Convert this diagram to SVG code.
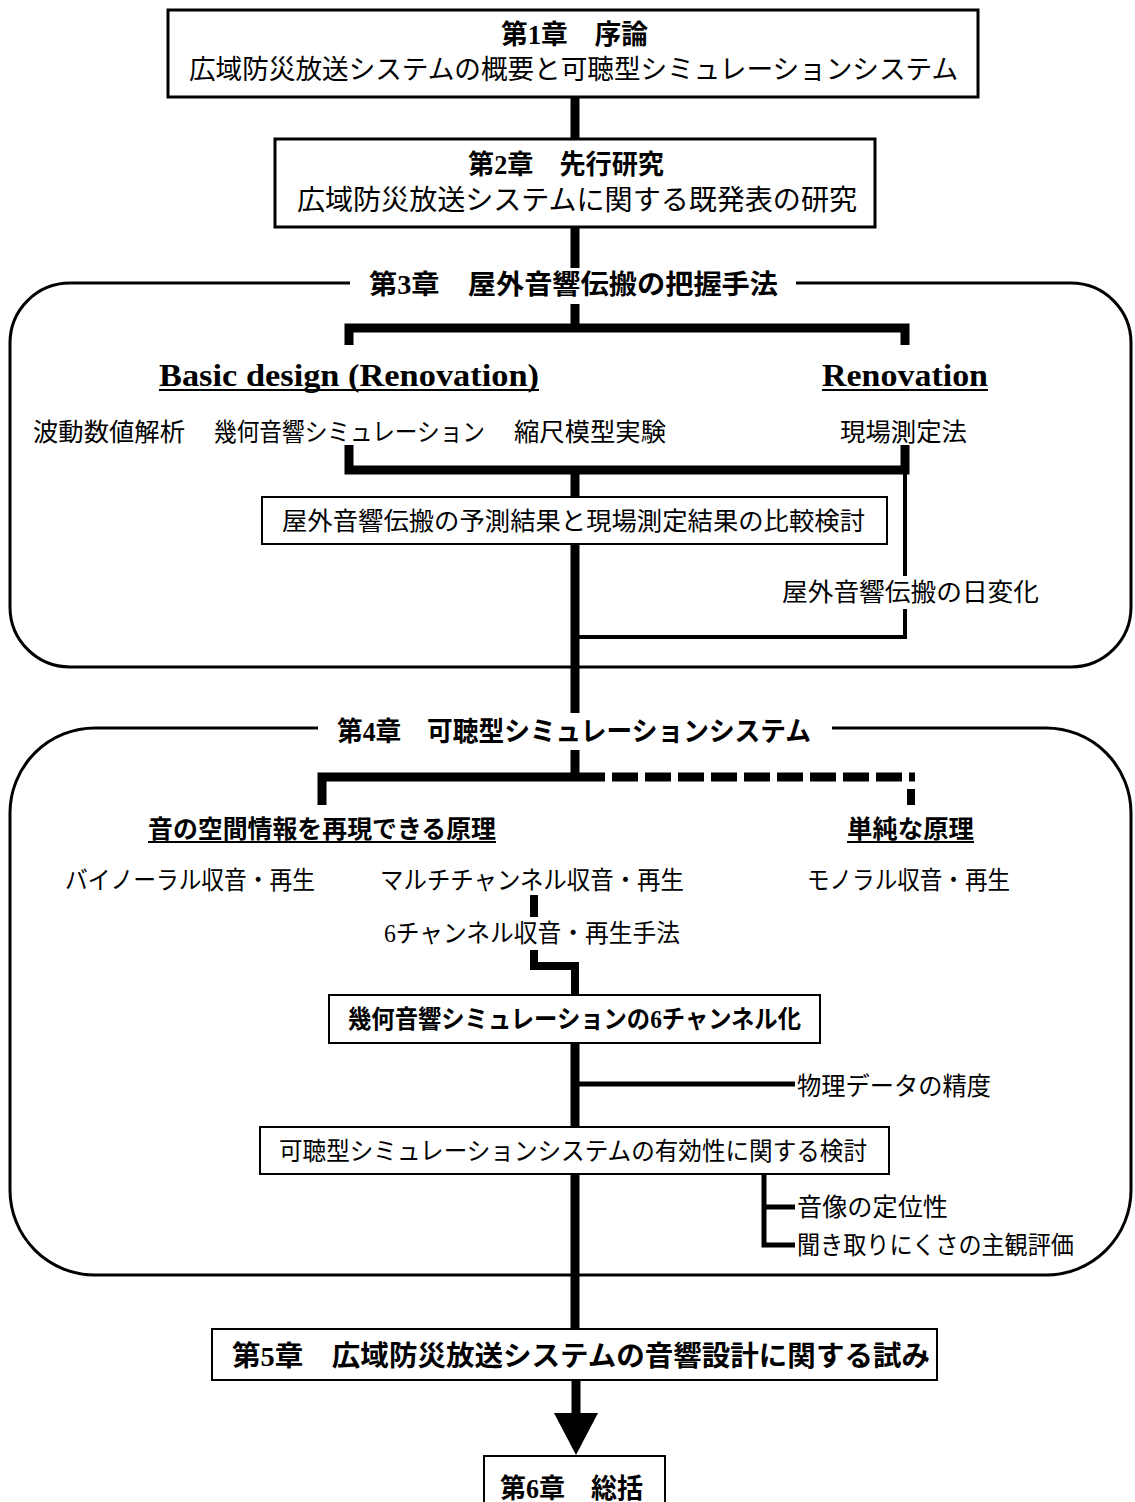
<svg xmlns="http://www.w3.org/2000/svg" width="1135" height="1502" viewBox="0 0 1135 1502">
<style>
.t{font-family:"Liberation Serif","Noto Sans CJK JP",serif;font-size:25px;fill:#000;dominant-baseline:central}
.b{font-weight:bold;font-size:27px}
.en{font-family:"Liberation Serif",serif;font-weight:bold;font-size:32px;fill:#000}
.box{fill:#fff;stroke:#000;stroke-width:2}
.box3{fill:#fff;stroke:#000;stroke-width:3}
.frame{fill:none;stroke:#000;stroke-width:3}
.thick{fill:none;stroke:#000;stroke-width:9;stroke-linejoin:miter;stroke-linecap:butt}
.mid{fill:none;stroke:#000;stroke-width:8;stroke-linejoin:miter}
.thin{fill:none;stroke:#000;stroke-width:4}
.br{fill:none;stroke:#000;stroke-width:5;stroke-linejoin:miter}
.ul{stroke:#000;stroke-width:2}
</style>
<g id="ch3-frame"><path class="frame" d="M350,283 H70 A60,60 0 0 0 10,343 V607 A60,60 0 0 0 70,667 H1071 A60,60 0 0 0 1131,607 V343 A60,60 0 0 0 1071,283 H796"/></g>
<g id="ch4-frame"><path class="frame" d="M318,728 H95 A85,85 0 0 0 10,813 V1190 A85,85 0 0 0 95,1275 H1046 A85,85 0 0 0 1131,1190 V813 A85,85 0 0 0 1046,728 H832"/></g>
<g id="connectors">
<line class="thick" x1="575" y1="97" x2="575" y2="139"/>
<line class="thick" x1="575" y1="227" x2="575" y2="268"/>
<line class="thick" x1="575" y1="304" x2="575" y2="328"/>
<path class="thick" d="M349,345 V328 H905 V345"/>
<path class="thick" d="M349,445 V470 H905 V445"/>
<line class="thick" x1="575" y1="470" x2="575" y2="497"/>
<path class="thin" d="M905,470 V576"/>
<path class="thin" d="M905,609 V637 H575"/>
<line class="thick" x1="575" y1="544" x2="575" y2="713"/>
<line class="thick" x1="575" y1="750" x2="575" y2="777"/>
<path class="thick" d="M322,805 V777 H579"/>
<line x1="579" y1="777" x2="915" y2="777" stroke="#000" stroke-width="9" stroke-dasharray="26 7"/>
<line x1="911" y1="789" x2="911" y2="805" stroke="#000" stroke-width="8"/>
<line class="mid" x1="534" y1="895" x2="534" y2="917"/>
<path class="mid" d="M534,950 V966 H575 V995"/>
<line class="thick" x1="575" y1="1043" x2="575" y2="1127"/>
<path class="br" d="M575,1084 H795"/>
<line class="thick" x1="575" y1="1174" x2="575" y2="1329"/>
<path class="br" d="M764,1174 V1245 H795 M764,1207 H795"/>
<line class="thick" x1="576" y1="1380" x2="576" y2="1414"/>
<polygon points="554,1413 598,1413 576,1455" fill="#000"/>
</g>
<g id="ch1">
<rect class="box3" x="168" y="10" width="810" height="87"/>
<text class="t b" x="501" y="35" textLength="147" lengthAdjust="spacingAndGlyphs">第1章　序論</text>
<text class="t" x="189" y="70" style="font-size:27px" textLength="769" lengthAdjust="spacingAndGlyphs">広域防災放送システムの概要と可聴型シミュレーションシステム</text>
</g>
<g id="ch2">
<rect class="box3" x="275" y="139" width="600" height="88"/>
<text class="t b" x="468" y="165" textLength="196" lengthAdjust="spacingAndGlyphs">第2章　先行研究</text>
<text class="t" x="297" y="200" style="font-size:28px" textLength="560" lengthAdjust="spacingAndGlyphs">広域防災放送システムに関する既発表の研究</text>
</g>
<g id="ch3-title"><text class="t b" x="369" y="285" textLength="409" lengthAdjust="spacingAndGlyphs">第3章　屋外音響伝搬の把握手法</text></g>
<g id="basic-design">
<text class="en" x="159" y="386" textLength="380" lengthAdjust="spacingAndGlyphs">Basic design (Renovation)</text>
<line class="ul" x1="159" y1="390" x2="539" y2="390"/>
</g>
<g id="renovation">
<text class="en" x="822" y="386" textLength="166" lengthAdjust="spacingAndGlyphs">Renovation</text>
<line class="ul" x1="822" y1="390" x2="988" y2="390"/>
</g>
<g id="m-wave"><text class="t" x="33" y="432" textLength="152" lengthAdjust="spacingAndGlyphs">波動数値解析</text></g>
<g id="m-geo"><text class="t" x="214" y="432" textLength="271" lengthAdjust="spacingAndGlyphs">幾何音響シミュレーション</text></g>
<g id="m-scale"><text class="t" x="514" y="432" textLength="152" lengthAdjust="spacingAndGlyphs">縮尺模型実験</text></g>
<g id="m-field"><text class="t" x="840" y="432" textLength="127" lengthAdjust="spacingAndGlyphs">現場測定法</text></g>
<g id="compare">
<rect class="box" x="262" y="497" width="625" height="47"/>
<text class="t" x="282" y="521" textLength="583" lengthAdjust="spacingAndGlyphs">屋外音響伝搬の予測結果と現場測定結果の比較検討</text>
</g>
<g id="daily"><text class="t" x="782" y="592" textLength="257" lengthAdjust="spacingAndGlyphs">屋外音響伝搬の日変化</text></g>
<g id="ch4-title"><text class="t b" x="337" y="732" textLength="474" lengthAdjust="spacingAndGlyphs">第4章　可聴型シミュレーションシステム</text></g>
<g id="spatial">
<text class="t b" x="148" y="829" style="font-size:25px" textLength="348" lengthAdjust="spacingAndGlyphs">音の空間情報を再現できる原理</text>
<line class="ul" x1="148" y1="842" x2="496" y2="842"/>
</g>
<g id="simple">
<text class="t b" x="847" y="829" style="font-size:25px" textLength="127" lengthAdjust="spacingAndGlyphs">単純な原理</text>
<line class="ul" x1="847" y1="842" x2="974" y2="842"/>
</g>
<g id="binaural"><text class="t" x="65" y="880" textLength="250" lengthAdjust="spacingAndGlyphs">バイノーラル収音・再生</text></g>
<g id="multi"><text class="t" x="380" y="880" textLength="304" lengthAdjust="spacingAndGlyphs">マルチチャンネル収音・再生</text></g>
<g id="mono"><text class="t" x="807" y="880" textLength="203" lengthAdjust="spacingAndGlyphs">モノラル収音・再生</text></g>
<g id="six"><text class="t" x="384" y="933" textLength="296" lengthAdjust="spacingAndGlyphs">6チャンネル収音・再生手法</text></g>
<g id="geo6">
<rect class="box" x="329" y="995" width="491" height="48"/>
<text class="t b" x="348" y="1019" style="font-size:25px" textLength="453" lengthAdjust="spacingAndGlyphs">幾何音響シミュレーションの6チャンネル化</text>
</g>
<g id="accuracy"><text class="t" x="797" y="1086" textLength="194" lengthAdjust="spacingAndGlyphs">物理データの精度</text></g>
<g id="validity">
<rect class="box" x="260" y="1127" width="629" height="47"/>
<text class="t" x="279" y="1151" textLength="588" lengthAdjust="spacingAndGlyphs">可聴型シミュレーションシステムの有効性に関する検討</text>
</g>
<g id="localization"><text class="t" x="797" y="1207" textLength="151" lengthAdjust="spacingAndGlyphs">音像の定位性</text></g>
<g id="subjective"><text class="t" x="797" y="1245" textLength="277" lengthAdjust="spacingAndGlyphs">聞き取りにくさの主観評価</text></g>
<g id="ch5">
<rect class="box" x="212" y="1329" width="725" height="51"/>
<text class="t b" x="232" y="1356" style="font-size:28px" textLength="698" lengthAdjust="spacingAndGlyphs">第5章　広域防災放送システムの音響設計に関する試み</text>
</g>
<g id="ch6">
<rect class="box" x="484" y="1456" width="181" height="52"/>
<text class="t b" x="500" y="1489" textLength="143" lengthAdjust="spacingAndGlyphs">第6章　総括</text>
</g>
</svg>
